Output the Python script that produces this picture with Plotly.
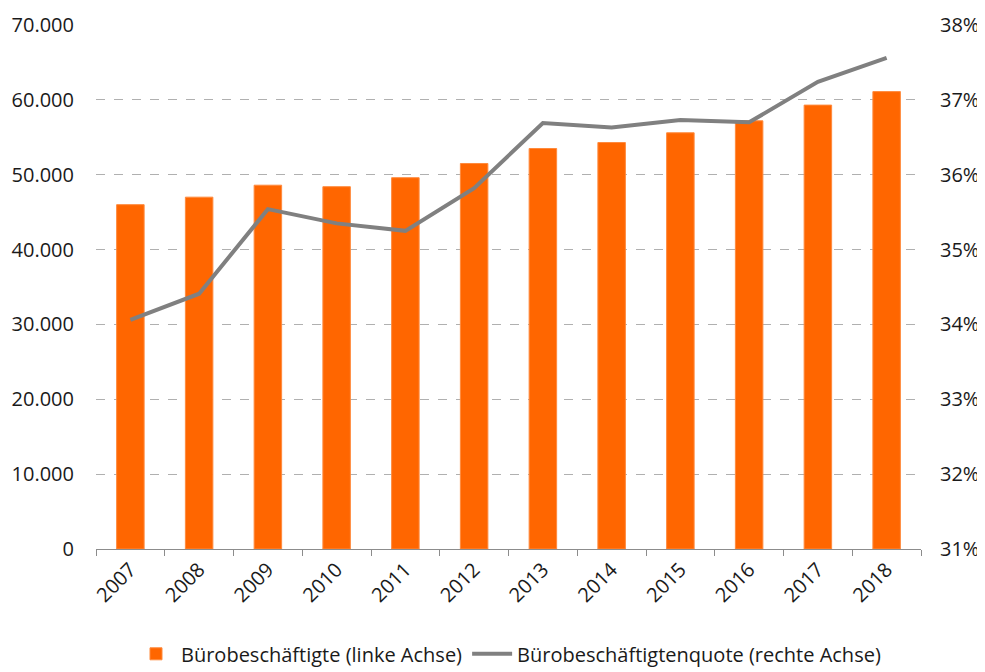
import plotly.graph_objects as go

years = ["2007", "2008", "2009", "2010", "2011", "2012", "2013", "2014", "2015", "2016", "2017", "2018"]
beschaeftigte = [46000, 47000, 48600, 48400, 49600, 51500, 53500, 54300, 55600, 57200, 59300, 61100]
quote = [0.3406, 0.3441, 0.3554, 0.3535, 0.3525, 0.3582, 0.3669, 0.3663, 0.3673, 0.3670, 0.3724, 0.3756]
left_ticks = [0, 10000, 20000, 30000, 40000, 50000, 60000, 70000]
left_labels = ["0", "10.000", "20.000", "30.000", "40.000", "50.000", "60.000", "70.000"]
right_ticks = [0.31, 0.32, 0.33, 0.34, 0.35, 0.36, 0.37, 0.38]
right_labels = ["31%", "32%", "33%", "34%", "35%", "36%", "37%", "38%"]

FONT = "Open Sans"
FS = 20
fig = go.Figure()
fig.add_trace(go.Bar(
    x=years, y=beschaeftigte, name="Bürobeschäftigte (linke Achse)",
    marker=dict(color="#FF6600", line=dict(color="#FF8A3D", width=1)),
    yaxis="y",
))
fig.add_trace(go.Scatter(
    x=years, y=quote, name="Bürobeschäftigtenquote (rechte Achse)",
    mode="lines", line=dict(color="#808080", width=4),
    yaxis="y2",
))

fig.update_layout(
    width=977, height=664,
    margin=dict(l=88, r=64, t=17, b=123, autoexpand=False),
    paper_bgcolor="white", plot_bgcolor="white",
    font=dict(family=FONT, size=FS, color="#1a1a1a"),
    bargap=0.6,
    showlegend=True,
    legend=dict(orientation="h", x=0.5, xanchor="center", y=-0.2, yanchor="middle",
                font=dict(size=FS, family=FONT), itemwidth=40, traceorder="normal"),
    xaxis=dict(
        type="category", tickangle=-45, showgrid=False, automargin=False,
        showline=True, linecolor="#8c8c8c", linewidth=1,
        ticks="outside", tickson="boundaries", ticklen=6, tickcolor="#8c8c8c",
        tickfont=dict(size=FS, family=FONT),
    ),
    yaxis=dict(
        range=[0, 70000], tickvals=left_ticks, ticktext=left_labels, automargin=False,
        showgrid=True, gridcolor="#b0b0b0", griddash="dash", gridwidth=1,
        showline=False, zeroline=False, ticks="", ticklabelstandoff=21,
        tickfont=dict(size=FS, family=FONT),
    ),
    yaxis2=dict(
        range=[0.31, 0.38], tickvals=right_ticks, ticktext=right_labels, automargin=False,
        overlaying="y", side="right", showgrid=False, showline=False,
        zeroline=False, ticks="", ticklabelstandoff=18,
        tickfont=dict(size=FS, family=FONT),
    ),
)

fig.write_html("out.html")
